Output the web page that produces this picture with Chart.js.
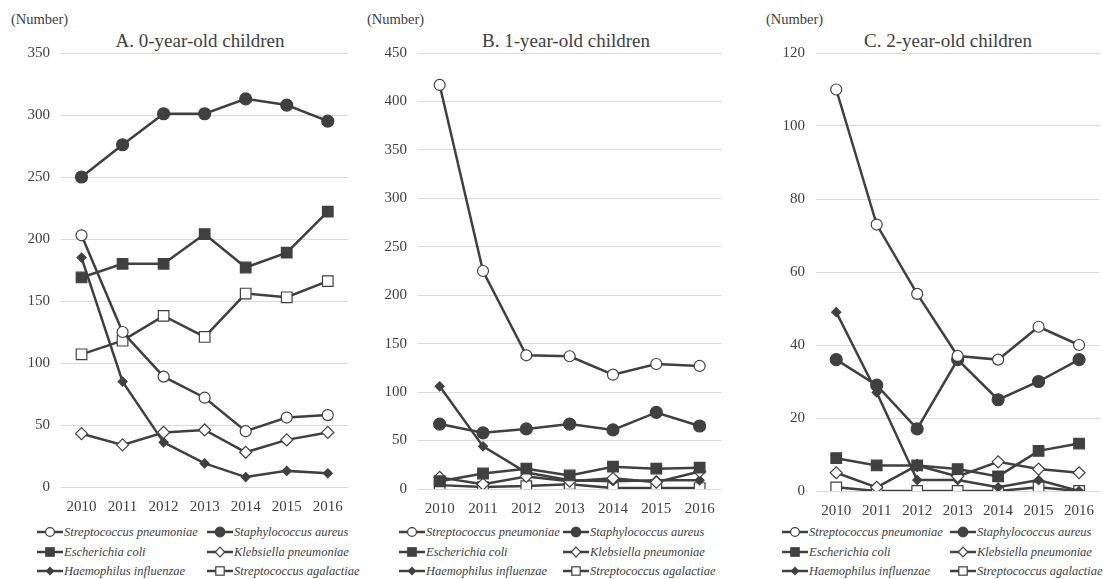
<!DOCTYPE html>
<html>
<head>
<meta charset="utf-8">
<script src="https://cdn.jsdelivr.net/npm/chart.js@4.4.1/dist/chart.umd.min.js"></script>
<style>
    body { margin: 0; width: 1103px; height: 579px; overflow: hidden; background: #fff; position: relative; color: #404040; }
    .panel { position: absolute; top: 0; height: 520px; }
    .unit { position: absolute; top: 11px; font-size: 14.5px; font-family: 'Liberation Serif', serif; }
    .ttl { position: absolute; top: 30px; font-size: 19px; transform: translateX(-50%); white-space: nowrap;
        font-family: 'Liberation Serif', serif; }
    .leg { position: absolute; height: 16px; display: flex; align-items: center; white-space: nowrap;
        font-size: 12.5px; font-style: italic; font-family: 'Liberation Serif', serif; }
    .leg svg { margin-right: 1px; }
</style>
</head>
<body>
<script>
const YEARS = ['2010', '2011', '2012', '2013', '2014', '2015', '2016'];
const SERIES = ['Streptococcus pneumoniae', 'Staphylococcus aureus', 'Escherichia coli',
    'Klebsiella pneumoniae', 'Haemophilus influenzae', 'Streptococcus agalactiae'];

// A. 0-year-old
const age0Pneumoniae = [203, 125, 89, 72, 45, 56, 58];
const age0Aureus = [250, 276, 301, 301, 313, 308, 295];
const age0Coli = [169, 180, 180, 204, 177, 189, 222];
const age0Klebsiella = [43, 34, 44, 46, 28, 38, 44];
const age0Haemophilus = [185, 85, 36, 19, 8, 13, 11];
const age0Agalactiae = [107, 118, 138, 121, 156, 153, 166];

// B. 1-year-old
const age1Pneumoniae = [417, 225, 138, 137, 118, 129, 127];
const age1Aureus = [67, 58, 62, 67, 61, 79, 65];
const age1Coli = [8, 16, 21, 14, 23, 21, 22];
const age1Klebsiella = [12, 5, 13, 8, 11, 7, 18];
const age1Haemophilus = [106, 44, 17, 9, 8, 9, 9];
const age1Agalactiae = [4, 2, 3, 5, 1, 1, 1];

// C. 2-year-old
const age2Pneumoniae = [110, 73, 54, 37, 36, 45, 40];
const age2Aureus = [36, 29, 17, 36, 25, 30, 36];
const age2Coli = [9, 7, 7, 6, 4, 11, 13];
const age2Klebsiella = [5, 1, 7, 4, 8, 6, 5];
const age2Haemophilus = [49, 27, 3, 3, 1, 3, 0];
const age2Agalactiae = [1, 0, 0, 0, 0, 1, 0];

const INK = '#404040';
const SERIF = "'Liberation Serif', 'Times New Roman', serif";
Chart.defaults.font.family = SERIF;

// marker look per series, same order as SERIES
const MARKS = [
    { style: 'circle', r: 5.5, fill: '#fff' },
    { style: 'circle', r: 6, fill: INK },
    { style: 'rect', r: 7.5, fill: INK },
    { style: 'rectRot', r: 6, fill: '#fff' },
    { style: 'rectRot', r: 4.5, fill: INK },
    { style: 'rect', r: 7.5, fill: '#fff' },
];

const PANELS = [
    { title: 'A. 0-year-old children', left: 0, width: 357, chartLeft: 61, bottom: 487, max: 350, step: 50,
      titleX: 200, unitX: 11, legX: [37, 207],
      data: [age0Pneumoniae, age0Aureus, age0Coli, age0Klebsiella, age0Haemophilus, age0Agalactiae] },
    { title: 'B. 1-year-old children', left: 365, width: 365, chartLeft: 418, bottom: 489, max: 450, step: 50,
      titleX: 566, unitX: 367, legX: [399, 563],
      data: [age1Pneumoniae, age1Aureus, age1Coli, age1Klebsiella, age1Haemophilus, age1Agalactiae] },
    { title: 'C. 2-year-old children', left: 750, width: 358, chartLeft: 816, bottom: 491, max: 120, step: 20,
      titleX: 948, unitX: 766, legX: [782, 950],
      data: [age2Pneumoniae, age2Aureus, age2Coli, age2Klebsiella, age2Haemophilus, age2Agalactiae] },
];
const LEG_ROWS = [532, 552, 571];

function markSvg(m) {
    let shape;
    if (m.style === 'circle') shape = `<circle cx="13" cy="8" r="${m.r * 0.8}"/>`;
    else if (m.style === 'rect') { const h = m.r * 0.7 * 0.8; shape = `<rect x="${13 - h}" y="${8 - h}" width="${2 * h}" height="${2 * h}"/>`; }
    else { const h = m.r * 0.8; shape = `<polygon points="13,${8 - h} ${13 + h},8 13,${8 + h} ${13 - h},8"/>`; }
    return `<svg width="26" height="16"><line x1="0" y1="8" x2="26" y2="8" stroke="${INK}" stroke-width="2.5"/>
        <g fill="${m.fill}" stroke="${INK}" stroke-width="1.2">${shape}</g></svg>`;
}

function addDiv(cls, style, htmlText) {
    const d = document.createElement('div');
    d.className = cls;
    d.setAttribute('style', style);
    d.innerHTML = htmlText;
    document.body.appendChild(d);
    return d;
}

PANELS.forEach((p) => {
    addDiv('unit', `left:${p.unitX}px;`, '(Number)');
    addDiv('ttl', `left:${p.titleX}px;`, p.title);
    SERIES.forEach((name, i) => {
        const x = p.legX[i % 2];
        const y = LEG_ROWS[Math.floor(i / 2)] - 8;
        addDiv('leg', `left:${x}px;top:${y}px;`, markSvg(MARKS[i]) + name);
    });

    const box = addDiv('panel', `left:${p.left}px;width:${p.width}px;`, '<canvas></canvas>');
    new Chart(box.querySelector('canvas'), {
        type: 'line',
        data: {
            labels: YEARS,
            datasets: SERIES.map((name, i) => ({
                label: name,
                data: p.data[i],
                borderColor: INK,
                borderWidth: 2.5,
                tension: 0,
                pointStyle: MARKS[i].style,
                pointRadius: MARKS[i].r,
                pointBackgroundColor: MARKS[i].fill,
                pointBorderColor: INK,
                pointBorderWidth: 1.2,
            })),
        },
        options: {
            responsive: true, maintainAspectRatio: false, animation: false,
            layout: { padding: { top: 53, left: 0, right: 0, bottom: 0 } },
            plugins: { legend: { display: false }, tooltip: { enabled: false } },
            scales: {
                x: {
                    offset: true,
                    grid: { display: false, drawTicks: false },
                    border: { display: false },
                    ticks: { color: INK, padding: 11, font: { family: SERIF, size: 15 } },
                    afterFit: (s) => { s.height = 520 - p.bottom; },
                },
                y: {
                    min: 0, max: p.max,
                    grid: { color: '#d9d9d9', lineWidth: 1, drawTicks: false },
                    border: { display: false },
                    ticks: { stepSize: p.step, color: INK, padding: 11, font: { family: SERIF, size: 15 } },
                    afterFit: (s) => { s.width = p.chartLeft - p.left; },
                },
            },
        },
    });
});
</script>
</body>
</html>
